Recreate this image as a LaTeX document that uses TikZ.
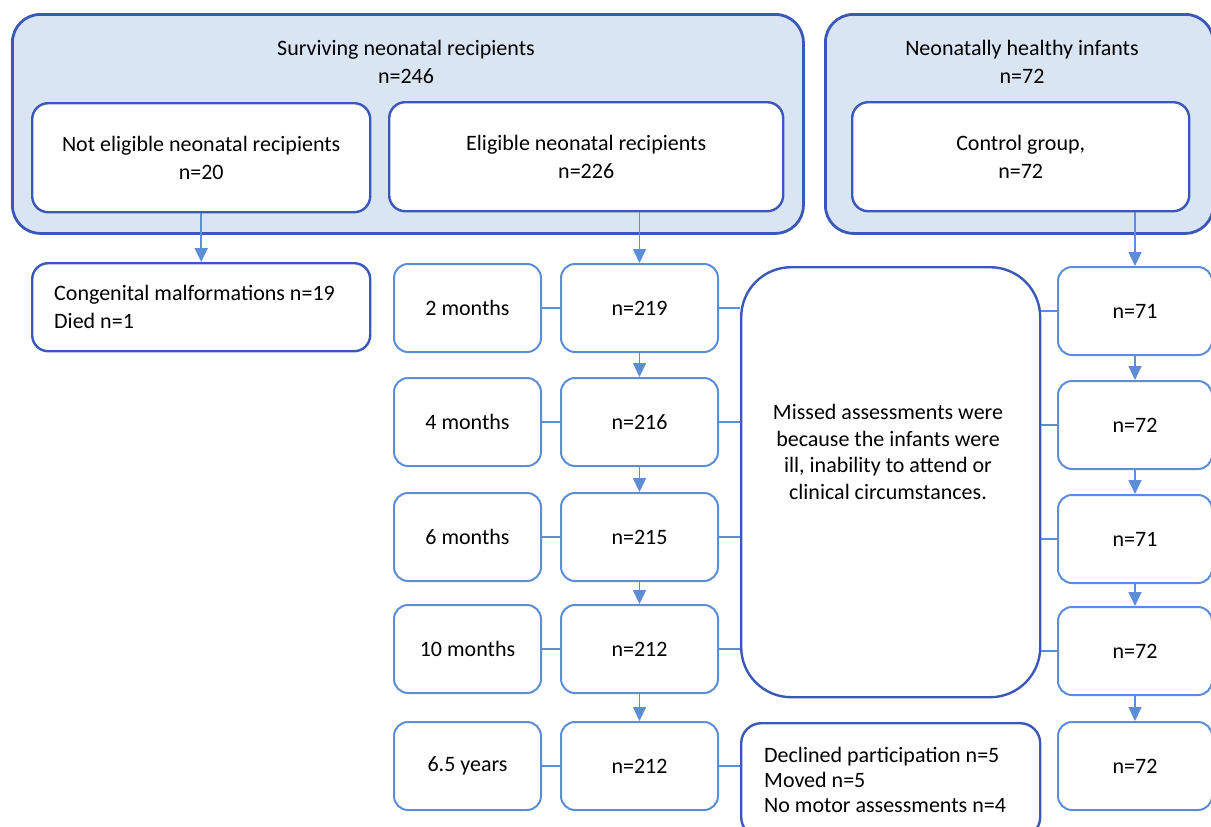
\documentclass[tikz,border=0pt]{standalone}
\usepackage{fontspec}
\setmainfont{Carlito}
\usetikzlibrary{arrows.meta}

\definecolor{frameblue}{HTML}{3A58BA}
\definecolor{boxblue}{HTML}{5B8ED6}
\definecolor{panelfill}{HTML}{DAE5F4}

\tikzset{
  every node/.style={font=\fontsize{11pt}{14pt}\selectfont},
  panel/.style={draw=frameblue, line width=1.4pt, fill=panelfill, rounded corners=14pt, anchor=north west},
  groupbox/.style={draw=frameblue, line width=1.2pt, fill=white, rounded corners=8pt, anchor=north west, align=center},
  stagebox/.style={draw=boxblue, line width=1pt, fill=white, rounded corners=7pt, anchor=north west,
    minimum height=44pt},
  notebox/.style={draw=frameblue, line width=1.2pt, fill=white, anchor=north west},
  link/.style={draw=boxblue, line width=0.8pt},
  flow/.style={link, -{Triangle[width=6.5pt,length=7pt]}},
}

\begin{document}
\begin{tikzpicture}[x=0.5pt, y=-0.5pt]
    \useasboundingbox (0,0) rectangle (1211,826);

    % Panels at the top
    \node[panel, minimum width=395.5pt, minimum height=109.5pt] (surv) at (11,13) {};
    \node[align=center] (survlbl) at (406,62) {Surviving neonatal recipients\\n=246};
    \node[panel, minimum width=194pt, minimum height=109.5pt] (healthy) at (824,13) {};
    \node[align=center] (healthylbl) at (1022,62) {Neonatally healthy infants\\n=72};

    \node[groupbox, minimum width=169pt, minimum height=54.5pt] (noteli) at (31,102)
        {Not eligible neonatal recipients\\n=20};
    \node[groupbox, minimum width=197pt, minimum height=54.5pt] (elig) at (388,101)
        {Eligible neonatal recipients\\n=226};
    \node[groupbox, minimum width=168.5pt, minimum height=54.5pt] (ctrl) at (851,101)
        {Control group,\\n=72};

    % Excluded infants
    \node[groupbox, align=flush left, text width=147pt, inner xsep=11pt, minimum height=44pt] (cong) at (31,262)
        {Congenital malformations n=19\\Died n=1};

    % Assessment ages
    \node[stagebox, minimum width=73.5pt] (t2)  at (393,263) {2 months};
    \node[stagebox, minimum width=73.5pt] (t4)  at (393,377) {4 months};
    \node[stagebox, minimum width=73.5pt] (t6)  at (393,492) {6 months};
    \node[stagebox, minimum width=73.5pt] (t10) at (393,604) {10 months};
    \node[stagebox, minimum width=73.5pt] (t65) at (393,721) {6.5 years};

    % Recipients at each age
    \node[stagebox, minimum width=78.5pt] (n2)  at (560,263) {n=219};
    \node[stagebox, minimum width=78.5pt] (n4)  at (560,377) {n=216};
    \node[stagebox, minimum width=78.5pt] (n6)  at (560,492) {n=215};
    \node[stagebox, minimum width=78.5pt] (n10) at (560,604) {n=212};
    \node[stagebox, minimum width=78.5pt] (n65) at (560,721) {n=212};

    % Controls at each age
    \node[stagebox, minimum width=77pt] (c2)  at (1057,266) {n=71};
    \node[stagebox, minimum width=77pt] (c4)  at (1057,380) {n=72};
    \node[stagebox, minimum width=77pt] (c6)  at (1057,494) {n=71};
    \node[stagebox, minimum width=77pt] (c10) at (1057,606) {n=72};
    \node[stagebox, minimum width=77pt] (c65) at (1057,721) {n=72};

    % Notes
    \node[notebox, rounded corners=25pt, minimum width=149.5pt, minimum height=215pt] (missed) at (740,266) {};
    \node[align=center, font=\fontsize{11pt}{13.2pt}\selectfont] (missedtxt) at (888,452)
        {Missed assessments were\\because the infants were\\ill, inability to attend or\\clinical circumstances.};
    \node[notebox, rounded corners=10pt, align=flush left, text width=126.5pt, inner xsep=11.5pt,
        minimum height=57pt, font=\fontsize{11pt}{12.5pt}\selectfont] (decl) at (740,722)
        {Declined participation n=5\\Moved n=5\\No motor assessments n=4};

    % Arrows down
    \draw[flow] (noteli.south) -- (cong.north);
    \draw[flow] (elig.south -| n2.north) -- (n2.north);
    \draw[flow] (ctrl.south -| c2.north) -- (c2.north);
    \draw[flow] (n2) -- (n4);
    \draw[flow] (n4) -- (n6);
    \draw[flow] (n6) -- (n10);
    \draw[flow] (n10) -- (n65);
    \draw[flow] (c2) -- (c4);
    \draw[flow] (c4) -- (c6);
    \draw[flow] (c6) -- (c10);
    \draw[flow] (c10) -- (c65);

    % Side links
    \foreach \t/\n in {t2/n2, t4/n4, t6/n6, t10/n10, t65/n65}
        \draw[link] (\t.east) -- (\n.west);
    \foreach \n in {n2, n4, n6, n10}
        \draw[link] (\n.east) -- (missed.west |- \n.east);
    \foreach \c in {c2, c4, c6, c10}
        \draw[link] (missed.east |- \c.west) -- (\c.west);
    \draw[link] (n65.east) -- (decl.west |- n65.east);
\end{tikzpicture}
\end{document}
